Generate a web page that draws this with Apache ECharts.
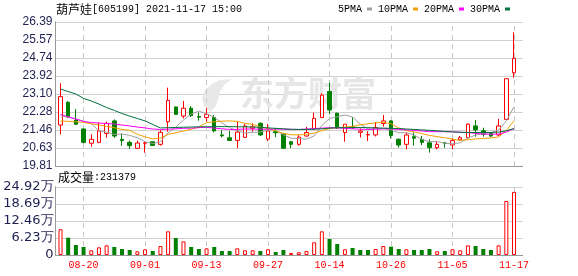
<!DOCTYPE html>
<html><head><meta charset="utf-8">
<script src="https://cdn.jsdelivr.net/npm/echarts@6/dist/echarts.min.js"></script>
<style>html,body{margin:0;padding:0;background:#fff}#c{width:578px;height:276px}</style>
</head><body><div id="c"></div>
<script>
const dates = ['08-17','08-18','08-19','08-20','08-23','08-24','08-25','08-26','08-27','08-30','08-31',
'09-01','09-02','09-03','09-06','09-07','09-08','09-09','09-10','09-13','09-14','09-15','09-16','09-17','09-22','09-23','09-24','09-27','09-28','09-29','09-30',
'10-08','10-11','10-12','10-13','10-14','10-15','10-18','10-19','10-20','10-21','10-22','10-25','10-26','10-27','10-28','10-29',
'11-01','11-02','11-03','11-04','11-05','11-08','11-09','11-10','11-11','11-12','11-15','11-16','11-17'];
const opens  = [21.68,22.72,21.91,21.50,20.85,20.89,21.30,21.87,21.03,20.89,20.62,20.85,20.92,20.80,21.83,22.51,22.09,22.45,22.07,22.03,22.03,21.23,21.10,20.98,21.12,21.53,21.76,21.04,21.38,21.27,20.92,20.80,21.18,21.51,22.03,23.21,22.22,21.34,21.60,21.35,21.23,21.23,21.75,21.87,21.03,20.80,21.15,21.03,20.87,20.65,20.86,20.77,21.00,21.10,21.64,21.42,21.30,21.23,21.94,24.07];
const closes = [22.98,22.06,21.72,20.89,21.03,21.41,21.76,21.18,20.97,20.74,20.86,20.87,20.75,21.35,22.81,22.17,22.45,22.11,22.04,22.17,21.41,21.19,20.98,21.36,21.64,21.60,21.23,21.41,21.33,20.62,20.80,21.13,21.34,21.99,23.05,22.37,21.55,21.72,21.55,21.41,21.25,21.57,21.87,21.20,20.77,21.23,21.08,20.89,20.65,20.80,20.84,20.97,21.10,21.72,21.46,21.26,21.18,21.64,23.80,24.73];
const lows   = [21.26,21.99,21.68,20.85,20.69,20.85,21.10,21.10,20.74,20.59,20.59,20.42,20.72,20.74,21.38,22.14,21.99,22.05,21.88,21.83,21.35,21.12,20.98,20.62,21.09,21.38,21.18,20.95,21.13,20.62,20.63,20.74,21.15,21.45,21.99,22.17,21.50,20.92,21.50,21.11,20.95,21.16,21.61,21.07,20.65,20.57,20.74,20.77,20.42,20.57,20.65,20.57,20.95,21.07,21.15,21.15,21.12,21.18,21.94,23.84];
const highs  = [23.59,22.78,22.41,21.53,21.26,21.81,21.83,21.94,21.30,20.97,20.97,20.92,20.92,21.45,23.39,22.53,22.78,22.55,22.25,22.45,22.14,21.45,21.41,21.83,21.73,21.76,21.80,21.73,21.55,21.32,20.95,21.23,21.59,22.25,23.13,23.62,22.25,21.72,22.03,21.53,21.40,21.82,22.14,21.91,21.07,21.35,21.35,21.18,21.03,20.92,20.92,21.08,21.18,21.76,21.91,21.56,21.35,21.96,23.80,25.92];
const ma5  = [22.10,22.04,21.96,21.86,21.74,21.42,21.36,21.25,21.27,21.21,21.10,20.92,20.84,20.91,21.33,21.59,21.91,22.18,22.32,
22.19,22.04,21.78,21.56,21.42,21.32,21.35,21.36,21.45,21.44,21.24,21.08,21.06,21.04,21.18,21.66,21.98,22.06,22.14,22.05,21.72,21.50,
21.50,21.53,21.46,21.33,21.33,21.23,21.03,20.92,20.93,20.85,20.83,20.87,21.09,21.22,21.30,21.34,21.45,21.87,22.52];
const ma10 = [21.87,21.85,21.83,21.80,21.74,21.68,21.62,21.56,21.48,21.44,21.26,21.14,21.05,21.08,21.26,21.33,21.41,21.49,21.59,21.79,
21.83,21.86,21.87,21.85,21.76,21.71,21.60,21.51,21.42,21.30,21.24,21.23,21.26,21.31,21.43,21.52,21.56,21.59,21.62,21.69,
21.74,21.78,21.81,21.74,21.55,21.43,21.37,21.29,21.21,21.15,21.10,21.04,20.98,21.01,21.05,21.07,21.09,21.14,21.43,21.87];
const ma20 = [22.17,22.05,21.96,21.84,21.80,21.77,21.75,21.73,21.68,21.64,21.59,21.55,21.50,21.48,21.49,21.51,21.53,21.54,21.56,21.58,
21.54,21.51,21.48,21.48,21.50,21.50,21.49,21.49,21.50,21.49,21.48,21.48,21.50,21.52,21.54,21.56,21.55,21.53,21.51,21.49,
21.48,21.49,21.51,21.51,21.48,21.46,21.44,21.41,21.38,21.38,21.38,21.37,21.35,21.34,21.30,21.27,21.26,21.27,21.36,21.52];
const ma30 = [23.33,23.21,23.10,22.90,22.78,22.64,22.48,22.35,22.21,22.09,21.98,21.87,21.71,21.55,
21.56,21.57,21.58,21.59,21.60,21.60,21.61,21.61,21.61,21.60,21.60,21.59,21.58,
21.55,21.53,21.51,21.49,21.48,21.48,21.49,21.51,21.54,21.56,21.56,21.57,21.57,
21.56,21.55,21.54,21.53,21.52,21.50,21.48,21.46,21.44,21.42,21.39,21.37,21.35,21.34,21.34,21.34,21.34,21.36,21.42,21.52];
const volumes = [94200,63400,36600,29300,17100,28100,35400,29300,22000,18300,13400,20800,14700,33000,86800,62300,50100,29300,22000,24400,
29300,14700,14700,24400,17100,17100,14700,20800,11000,18300,7300,9800,14700,46400,86800,58600,40300,20800,25700,18300,
18300,22000,33000,30500,22000,20800,18300,18300,22000,13400,14700,20800,17100,35400,33000,22000,18300,35400,197900,231379];
const volUp = [1,0,0,0,1,1,1,0,0,0,1,1,0,1,1,0,1,0,0,1,0,0,0,1,1,1,0,1,0,0,1,1,1,1,1,0,0,1,0,0,0,1,1,0,0,1,0,0,0,1,0,1,1,1,0,0,0,1,1,1];
const priceTicks = ['19.81','20.63','21.46','22.28','23.10','23.92','24.74','25.57','26.39'];
const volTicks = ['0','6.23万','12.46万','18.69万','24.92万'];
const labelDates = ['08-20','09-01','09-13','09-27','10-14','10-26','11-05','11-17'];
const priceMin = 19.81, priceMax = 26.39, volMax = 249200;
const maNames = ['5PMA','10PMA','20PMA','30PMA'];
const maColors = ['#a0a0a0','#f0a000','#ff00ff','#00703c'];

const UP = '#ff0000', DOWN = '#008000', FRAME = '#999999', GRIDC = '#d0d0d0';
const MONO = 'Liberation Mono';
const candleData = dates.map((d, i) => [opens[i], closes[i], lows[i], highs[i]]);
const volData = volumes.map((v, i) => ({
  value: v,
  itemStyle: volUp[i] ? {color: '#fff', borderColor: UP, borderWidth: 1} : {color: DOWN, borderColor: DOWN, borderWidth: 0}
}));
const vLines = {
  silent: true, symbol: ['none', 'none'], z: 1,
  label: {show: false}, emphasis: {disabled: true},
  lineStyle: {color: '#c8c8c8', type: [5, 4], width: 1},
  data: labelDates.map(d => ({xAxis: d}))
};
const FL = 55.5, FW = 467, CL = 56.66, CW = 461.2;
const PT = 22, PH = 144, VT = 187, VH = 68;
const maSeries = [ma5, ma10, ma20, ma30].map((arr, k) => ({
  name: maNames[k], type: 'line', xAxisIndex: 2, yAxisIndex: 2, data: arr,
  symbol: 'none', color: maColors[k], lineStyle: {width: 1, color: maColors[k]}, z: 3, silent: true
}));
const richTitle = {
  c: {fontFamily: 'Noto Sans CJK SC', fontSize: 12, fontWeight: 'normal', color: '#000'},
  a: {fontFamily: MONO, fontSize: 10, fontWeight: 'normal', color: '#000'}
};
const leaf = [[10,33],[4,27],[2,19],[5,11],[12,5],[20,1],[32,0],[25,5],[20,12],[18,20],[16,27],[10,33]]
  .map(p => [p[0] + 200, p[1] + 79]);

// frame axes (border lines) for a grid
const frameX = g => [
  {gridIndex: g, type: 'value', min: 0, max: 1, position: 'bottom', axisLine: {show: true, lineStyle: {color: FRAME}},
   axisTick: {show: false}, axisLabel: {show: false}, splitLine: {show: false}},
  {gridIndex: g, type: 'value', min: 0, max: 1, position: 'top', axisLine: {show: true, lineStyle: {color: FRAME}},
   axisTick: {show: false}, axisLabel: {show: false}, splitLine: {show: false}}
];
const frameY = (g, ticks, labelStyle) => [
  {gridIndex: g, type: 'value', min: 0, max: ticks.length - 1, interval: 1, position: 'left',
   axisLine: {show: true, lineStyle: {color: FRAME}}, axisTick: {show: false},
   axisLabel: Object.assign({formatter: v => ticks[v]}, labelStyle),
   splitLine: {lineStyle: {color: GRIDC, width: 1}}},
  {gridIndex: g, type: 'value', min: 0, max: ticks.length - 1, position: 'right',
   axisLine: {show: true, lineStyle: {color: FRAME}}, axisTick: {show: false}, axisLabel: {show: false}, splitLine: {show: false}}
];

const chart = echarts.init(document.getElementById('c'));
chart.setOption({
  animation: false,
  backgroundColor: '#fff',
  title: [
    {text: '{c|葫芦娃}{a|[605199] 2021-11-17 15:00}', left: 51, top: -2,
     textStyle: {fontWeight: 'normal', rich: richTitle}},
    {text: '{c|成交量}{a|:' + volumes[volumes.length - 1] + '}', left: 53, top: 166,
     textStyle: {fontWeight: 'normal', rich: richTitle}}
  ],
  legend: {
    left: 333, top: -1, align: 'right', icon: 'rect', itemWidth: 5, itemHeight: 3, itemGap: 6,
    selectedMode: false, data: maNames,
    textStyle: {fontFamily: MONO, fontSize: 10, color: '#000'}
  },
  graphic: [
    {type: 'polygon', z: 1, silent: true, shape: {points: leaf}, style: {fill: '#e8e8e8'}},
    {type: 'text', left: 240, top: 76, z: 1, silent: true,
     style: {text: '东方财富', font: 'bold 34px "Noto Sans CJK SC"', fill: '#e6e6e6'}}
  ],
  grid: [
    {left: FL, top: PT, width: FW, height: PH},
    {left: CL, top: PT, width: CW, height: PH},
    {left: FL, top: VT, width: FW, height: VH},
    {left: CL, top: VT, width: CW, height: VH}
  ],
  xAxis: [
    ...frameX(0),
    {gridIndex: 1, type: 'category', data: dates, show: false},
    ...frameX(2),
    {gridIndex: 3, type: 'category', data: dates,
     axisLine: {show: false}, axisTick: {show: false}, splitLine: {show: false},
     axisLabel: {interval: (i, v) => labelDates.includes(v), color: '#ff0000',
                 fontFamily: MONO, fontSize: 10, margin: 5}}
  ],
  yAxis: [
    ...frameY(0, priceTicks, {color: '#1f2050', fontFamily: 'Liberation Sans', fontSize: 12, margin: 3}),
    {gridIndex: 1, type: 'value', min: priceMin, max: priceMax, show: false, splitLine: {show: false}},
    ...frameY(2, volTicks, {color: '#1f2050', fontFamily: 'DejaVu Sans', fontSize: 13, margin: 2}),
    {gridIndex: 3, type: 'value', min: 0, max: volMax, show: false, splitLine: {show: false}}
  ],
  series: [
    {type: 'candlestick', xAxisIndex: 2, yAxisIndex: 2, data: candleData, barWidth: 4, silent: true,
     itemStyle: {color: '#fff', color0: DOWN, borderColor: UP, borderColor0: DOWN, borderWidth: 1},
     markLine: vLines},
    ...maSeries,
    {type: 'bar', xAxisIndex: 5, yAxisIndex: 5, data: volData, barWidth: 4, silent: true, markLine: vLines}
  ]
});
</script></body></html>
